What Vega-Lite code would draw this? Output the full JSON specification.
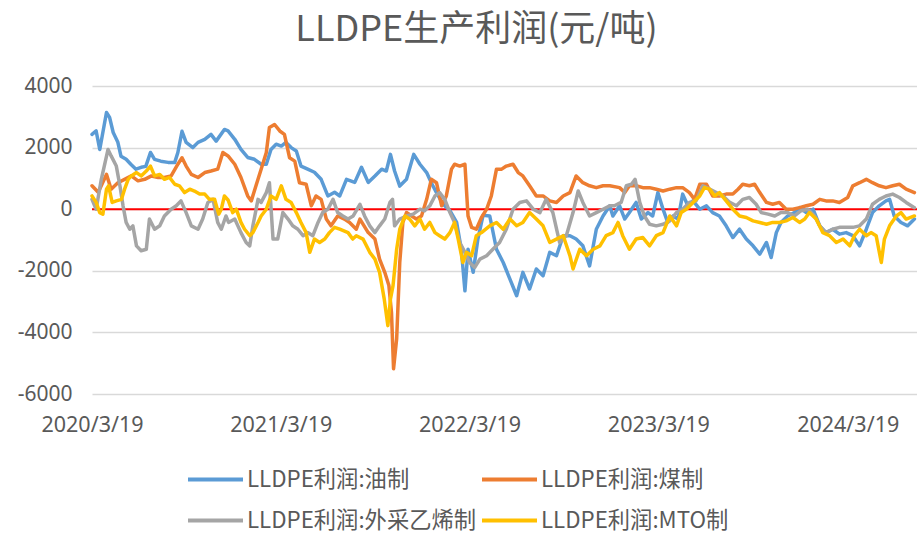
{
"$schema": "https://vega.github.io/schema/vega-lite/v6.json",
"width": 825,
"height": 308,
"autosize": {"type": "none"},
"padding": {"left": 92, "top": 86, "right": 0, "bottom": 139},
"background": "white",
"config": {"view": {"stroke": null}, "font": "Noto Sans, Noto Sans CJK SC"},
"title": {"text": "LLDPE生产利润(元/吨)", "fontSize": 36, "fontWeight": "normal", "color": "#595959", "anchor": "middle", "frame": "group", "dx": -28, "dy": 38, "offset": 28, "baseline": "bottom", "font": "Noto Sans CJK SC"},
"layer": [
{
"data": {"values": [{"v": 0}]},
"mark": {"type": "rule", "color": "#FF0000", "strokeWidth": 2},
"encoding": {"y": {"field": "v", "type": "quantitative", "title": null}}
},
{
"data": {"values": [
{"date":"2020-03-19","series":"LLDPE利润:油制","value":2430},
{"date":"2020-03-27","series":"LLDPE利润:油制","value":2540},
{"date":"2020-04-03","series":"LLDPE利润:油制","value":1940},
{"date":"2020-04-16","series":"LLDPE利润:油制","value":3140},
{"date":"2020-04-22","series":"LLDPE利润:油制","value":2980},
{"date":"2020-04-29","series":"LLDPE利润:油制","value":2490},
{"date":"2020-05-08","series":"LLDPE利润:油制","value":2170},
{"date":"2020-05-14","series":"LLDPE利润:油制","value":1720},
{"date":"2020-05-24","series":"LLDPE利润:油制","value":1620},
{"date":"2020-06-02","series":"LLDPE利润:油制","value":1460},
{"date":"2020-06-12","series":"LLDPE利润:油制","value":1300},
{"date":"2020-06-22","series":"LLDPE利润:油制","value":1360},
{"date":"2020-07-01","series":"LLDPE利润:油制","value":1390},
{"date":"2020-07-10","series":"LLDPE利润:油制","value":1840},
{"date":"2020-07-18","series":"LLDPE利润:油制","value":1620},
{"date":"2020-07-30","series":"LLDPE利润:油制","value":1560},
{"date":"2020-08-13","series":"LLDPE利润:油制","value":1520},
{"date":"2020-08-26","series":"LLDPE利润:油制","value":1520},
{"date":"2020-09-01","series":"LLDPE利润:油制","value":1840},
{"date":"2020-09-09","series":"LLDPE利润:油制","value":2530},
{"date":"2020-09-17","series":"LLDPE利润:油制","value":2170},
{"date":"2020-09-30","series":"LLDPE利润:油制","value":2000},
{"date":"2020-10-10","series":"LLDPE利润:油制","value":2170},
{"date":"2020-10-23","series":"LLDPE利润:油制","value":2270},
{"date":"2020-11-04","series":"LLDPE利润:油制","value":2430},
{"date":"2020-11-14","series":"LLDPE利润:油制","value":2210},
{"date":"2020-11-30","series":"LLDPE利润:油制","value":2590},
{"date":"2020-12-07","series":"LLDPE利润:油制","value":2540},
{"date":"2020-12-20","series":"LLDPE利润:油制","value":2270},
{"date":"2021-01-01","series":"LLDPE利润:油制","value":1940},
{"date":"2021-01-14","series":"LLDPE利润:油制","value":1680},
{"date":"2021-01-27","series":"LLDPE利润:油制","value":1620},
{"date":"2021-02-09","series":"LLDPE利润:油制","value":1460},
{"date":"2021-02-19","series":"LLDPE利润:油制","value":1460},
{"date":"2021-02-28","series":"LLDPE利润:油制","value":1940},
{"date":"2021-03-10","series":"LLDPE利润:油制","value":2110},
{"date":"2021-03-20","series":"LLDPE利润:油制","value":2050},
{"date":"2021-03-29","series":"LLDPE利润:油制","value":2170},
{"date":"2021-04-08","series":"LLDPE利润:油制","value":2000},
{"date":"2021-04-18","series":"LLDPE利润:油制","value":1890},
{"date":"2021-04-27","series":"LLDPE利润:油制","value":1400},
{"date":"2021-05-10","series":"LLDPE利润:油制","value":1300},
{"date":"2021-05-23","series":"LLDPE利润:油制","value":1200},
{"date":"2021-06-05","series":"LLDPE利润:油制","value":970},
{"date":"2021-06-18","series":"LLDPE利润:油制","value":430},
{"date":"2021-07-01","series":"LLDPE利润:油制","value":550},
{"date":"2021-07-11","series":"LLDPE利润:油制","value":430},
{"date":"2021-07-24","series":"LLDPE利润:油制","value":970},
{"date":"2021-08-09","series":"LLDPE利润:油制","value":870},
{"date":"2021-08-22","series":"LLDPE利润:油制","value":1360},
{"date":"2021-09-04","series":"LLDPE利润:油制","value":870},
{"date":"2021-09-17","series":"LLDPE利润:油制","value":1080},
{"date":"2021-09-30","series":"LLDPE利润:油制","value":1300},
{"date":"2021-10-09","series":"LLDPE利润:油制","value":1240},
{"date":"2021-10-17","series":"LLDPE利润:油制","value":1780},
{"date":"2021-10-25","series":"LLDPE利润:油制","value":1240},
{"date":"2021-11-04","series":"LLDPE利润:油制","value":750},
{"date":"2021-11-17","series":"LLDPE利润:油制","value":970},
{"date":"2021-12-01","series":"LLDPE利润:油制","value":1780},
{"date":"2021-12-13","series":"LLDPE利润:油制","value":1460},
{"date":"2021-12-26","series":"LLDPE利润:油制","value":1190},
{"date":"2022-01-04","series":"LLDPE利润:油制","value":860},
{"date":"2022-01-14","series":"LLDPE利润:油制","value":540},
{"date":"2022-01-27","series":"LLDPE利润:油制","value":160},
{"date":"2022-02-09","series":"LLDPE利润:油制","value":-50},
{"date":"2022-02-22","series":"LLDPE利润:油制","value":-430},
{"date":"2022-03-03","series":"LLDPE利润:油制","value":-1300},
{"date":"2022-03-10","series":"LLDPE利润:油制","value":-2650},
{"date":"2022-03-16","series":"LLDPE利润:油制","value":-1300},
{"date":"2022-03-26","series":"LLDPE利润:油制","value":-2050},
{"date":"2022-04-04","series":"LLDPE利润:油制","value":-970},
{"date":"2022-04-14","series":"LLDPE利润:油制","value":-200},
{"date":"2022-04-27","series":"LLDPE利润:油制","value":-220},
{"date":"2022-05-10","series":"LLDPE利润:油制","value":-1300},
{"date":"2022-05-23","series":"LLDPE利润:油制","value":-1730},
{"date":"2022-06-05","series":"LLDPE利润:油制","value":-2270},
{"date":"2022-06-18","series":"LLDPE利润:油制","value":-2810},
{"date":"2022-06-30","series":"LLDPE利润:油制","value":-2050},
{"date":"2022-07-13","series":"LLDPE利润:油制","value":-2590},
{"date":"2022-07-26","series":"LLDPE利润:油制","value":-1940},
{"date":"2022-08-08","series":"LLDPE利润:油制","value":-2160},
{"date":"2022-08-21","series":"LLDPE利润:油制","value":-1400},
{"date":"2022-09-03","series":"LLDPE利润:油制","value":-1510},
{"date":"2022-09-16","series":"LLDPE利润:油制","value":-860},
{"date":"2022-09-29","series":"LLDPE利润:油制","value":-860},
{"date":"2022-10-11","series":"LLDPE利润:油制","value":-970},
{"date":"2022-10-24","series":"LLDPE利润:油制","value":-1190},
{"date":"2022-11-06","series":"LLDPE利润:油制","value":-1840},
{"date":"2022-11-19","series":"LLDPE利润:油制","value":-650},
{"date":"2022-12-02","series":"LLDPE利润:油制","value":-220},
{"date":"2022-12-15","series":"LLDPE利润:油制","value":110},
{"date":"2022-12-21","series":"LLDPE利润:油制","value":-220},
{"date":"2023-01-03","series":"LLDPE利润:油制","value":110},
{"date":"2023-01-13","series":"LLDPE利润:油制","value":-320},
{"date":"2023-01-22","series":"LLDPE利润:油制","value":-110},
{"date":"2023-02-04","series":"LLDPE利润:油制","value":220},
{"date":"2023-02-14","series":"LLDPE利润:油制","value":-320},
{"date":"2023-02-27","series":"LLDPE利润:油制","value":-110},
{"date":"2023-03-08","series":"LLDPE利润:油制","value":-220},
{"date":"2023-03-18","series":"LLDPE利润:油制","value":540},
{"date":"2023-03-28","series":"LLDPE利润:油制","value":0},
{"date":"2023-04-06","series":"LLDPE利润:油制","value":-430},
{"date":"2023-04-16","series":"LLDPE利润:油制","value":-220},
{"date":"2023-04-26","series":"LLDPE利润:油制","value":-320},
{"date":"2023-05-05","series":"LLDPE利润:油制","value":490},
{"date":"2023-05-15","series":"LLDPE利润:油制","value":110},
{"date":"2023-05-25","series":"LLDPE利润:油制","value":270},
{"date":"2023-06-07","series":"LLDPE利润:油制","value":0},
{"date":"2023-06-20","series":"LLDPE利润:油制","value":110},
{"date":"2023-07-02","series":"LLDPE利润:油制","value":-110},
{"date":"2023-07-15","series":"LLDPE利润:油制","value":-220},
{"date":"2023-07-28","series":"LLDPE利润:油制","value":-540},
{"date":"2023-08-10","series":"LLDPE利润:油制","value":-920},
{"date":"2023-08-23","series":"LLDPE利润:油制","value":-650},
{"date":"2023-09-05","series":"LLDPE利润:油制","value":-970},
{"date":"2023-09-18","series":"LLDPE利润:油制","value":-1190},
{"date":"2023-10-01","series":"LLDPE利润:油制","value":-1460},
{"date":"2023-10-14","series":"LLDPE利润:油制","value":-1080},
{"date":"2023-10-23","series":"LLDPE利润:油制","value":-1570},
{"date":"2023-11-02","series":"LLDPE利润:油制","value":-760},
{"date":"2023-11-11","series":"LLDPE利润:油制","value":-430},
{"date":"2023-11-24","series":"LLDPE利润:油制","value":-220},
{"date":"2023-12-07","series":"LLDPE利润:油制","value":-110},
{"date":"2023-12-17","series":"LLDPE利润:油制","value":50},
{"date":"2023-12-30","series":"LLDPE利润:油制","value":-110},
{"date":"2024-01-12","series":"LLDPE利润:油制","value":0},
{"date":"2024-01-25","series":"LLDPE利润:油制","value":-540},
{"date":"2024-02-06","series":"LLDPE利润:油制","value":-760},
{"date":"2024-02-19","series":"LLDPE利润:油制","value":-650},
{"date":"2024-03-03","series":"LLDPE利润:油制","value":-810},
{"date":"2024-03-16","series":"LLDPE利润:油制","value":-760},
{"date":"2024-03-29","series":"LLDPE利润:油制","value":-860},
{"date":"2024-04-11","series":"LLDPE利润:油制","value":-1190},
{"date":"2024-04-24","series":"LLDPE利润:油制","value":-650},
{"date":"2024-05-06","series":"LLDPE利润:油制","value":-110},
{"date":"2024-05-19","series":"LLDPE利润:油制","value":110},
{"date":"2024-06-01","series":"LLDPE利润:油制","value":270},
{"date":"2024-06-08","series":"LLDPE利润:油制","value":320},
{"date":"2024-06-17","series":"LLDPE利润:油制","value":-220},
{"date":"2024-06-30","series":"LLDPE利润:油制","value":-430},
{"date":"2024-07-13","series":"LLDPE利润:油制","value":-540},
{"date":"2024-07-26","series":"LLDPE利润:油制","value":-320},
{"date":"2020-03-19","series":"LLDPE利润:煤制","value":760},
{"date":"2020-03-31","series":"LLDPE利润:煤制","value":550},
{"date":"2020-04-16","series":"LLDPE利润:煤制","value":1130},
{"date":"2020-04-25","series":"LLDPE利润:煤制","value":650},
{"date":"2020-05-08","series":"LLDPE利润:煤制","value":860},
{"date":"2020-05-21","series":"LLDPE利润:煤制","value":970},
{"date":"2020-06-03","series":"LLDPE利润:煤制","value":1080},
{"date":"2020-06-16","series":"LLDPE利润:煤制","value":920},
{"date":"2020-06-29","series":"LLDPE利润:煤制","value":970},
{"date":"2020-07-12","series":"LLDPE利润:煤制","value":1080},
{"date":"2020-07-25","series":"LLDPE利润:煤制","value":1030},
{"date":"2020-08-06","series":"LLDPE利润:煤制","value":1030},
{"date":"2020-08-19","series":"LLDPE利润:煤制","value":1080},
{"date":"2020-09-01","series":"LLDPE利润:煤制","value":1460},
{"date":"2020-09-09","series":"LLDPE利润:煤制","value":1670},
{"date":"2020-09-17","series":"LLDPE利润:煤制","value":1400},
{"date":"2020-09-27","series":"LLDPE利润:煤制","value":1130},
{"date":"2020-10-10","series":"LLDPE利润:煤制","value":1030},
{"date":"2020-10-23","series":"LLDPE利润:煤制","value":1190},
{"date":"2020-11-04","series":"LLDPE利润:煤制","value":1240},
{"date":"2020-11-17","series":"LLDPE利润:煤制","value":1300},
{"date":"2020-11-27","series":"LLDPE利润:煤制","value":1840},
{"date":"2020-12-07","series":"LLDPE利润:煤制","value":1730},
{"date":"2020-12-20","series":"LLDPE利润:煤制","value":1460},
{"date":"2021-01-01","series":"LLDPE利润:煤制","value":1030},
{"date":"2021-01-14","series":"LLDPE利润:煤制","value":430},
{"date":"2021-01-21","series":"LLDPE利润:煤制","value":270},
{"date":"2021-01-30","series":"LLDPE利润:煤制","value":760},
{"date":"2021-02-09","series":"LLDPE利润:煤制","value":1300},
{"date":"2021-02-19","series":"LLDPE利润:煤制","value":1840},
{"date":"2021-02-25","series":"LLDPE利润:煤制","value":2650},
{"date":"2021-03-07","series":"LLDPE利润:煤制","value":2750},
{"date":"2021-03-17","series":"LLDPE利润:煤制","value":2540},
{"date":"2021-03-26","series":"LLDPE利润:煤制","value":2430},
{"date":"2021-04-05","series":"LLDPE利润:煤制","value":1670},
{"date":"2021-04-15","series":"LLDPE利润:煤制","value":1560},
{"date":"2021-04-24","series":"LLDPE利润:煤制","value":860},
{"date":"2021-05-07","series":"LLDPE利润:煤制","value":810},
{"date":"2021-05-17","series":"LLDPE利润:煤制","value":110},
{"date":"2021-05-26","series":"LLDPE利润:煤制","value":430},
{"date":"2021-06-05","series":"LLDPE利润:煤制","value":320},
{"date":"2021-06-15","series":"LLDPE利润:煤制","value":-320},
{"date":"2021-06-24","series":"LLDPE利润:煤制","value":-540},
{"date":"2021-07-07","series":"LLDPE利润:煤制","value":-220},
{"date":"2021-07-20","series":"LLDPE利润:煤制","value":-320},
{"date":"2021-07-30","series":"LLDPE利润:煤制","value":-430},
{"date":"2021-08-12","series":"LLDPE利润:煤制","value":-650},
{"date":"2021-08-19","series":"LLDPE利润:煤制","value":-320},
{"date":"2021-09-04","series":"LLDPE利润:煤制","value":-760},
{"date":"2021-09-17","series":"LLDPE利润:煤制","value":-970},
{"date":"2021-09-26","series":"LLDPE利润:煤制","value":-1620},
{"date":"2021-10-06","series":"LLDPE利润:煤制","value":-2050},
{"date":"2021-10-14","series":"LLDPE利润:煤制","value":-2480},
{"date":"2021-10-19","series":"LLDPE利润:煤制","value":-3350},
{"date":"2021-10-23","series":"LLDPE利润:煤制","value":-5180},
{"date":"2021-10-29","series":"LLDPE利润:煤制","value":-4210},
{"date":"2021-11-04","series":"LLDPE利润:煤制","value":-1730},
{"date":"2021-11-10","series":"LLDPE利润:煤制","value":-430},
{"date":"2021-11-17","series":"LLDPE利润:煤制","value":-110},
{"date":"2021-11-27","series":"LLDPE利润:煤制","value":-220},
{"date":"2021-12-06","series":"LLDPE利润:煤制","value":-320},
{"date":"2021-12-16","series":"LLDPE利润:煤制","value":-220},
{"date":"2021-12-26","series":"LLDPE利润:煤制","value":320},
{"date":"2022-01-04","series":"LLDPE利润:煤制","value":970},
{"date":"2022-01-14","series":"LLDPE利润:煤制","value":860},
{"date":"2022-01-24","series":"LLDPE利润:煤制","value":110},
{"date":"2022-02-02","series":"LLDPE利润:煤制","value":430},
{"date":"2022-02-12","series":"LLDPE利润:煤制","value":1300},
{"date":"2022-02-18","series":"LLDPE利润:煤制","value":1460},
{"date":"2022-02-28","series":"LLDPE利润:煤制","value":1400},
{"date":"2022-03-10","series":"LLDPE利润:煤制","value":1460},
{"date":"2022-03-16","series":"LLDPE利润:煤制","value":-220},
{"date":"2022-03-23","series":"LLDPE利润:煤制","value":-590},
{"date":"2022-04-01","series":"LLDPE利润:煤制","value":-650},
{"date":"2022-04-11","series":"LLDPE利润:煤制","value":-270},
{"date":"2022-04-21","series":"LLDPE利润:煤制","value":0},
{"date":"2022-04-30","series":"LLDPE利润:煤制","value":430},
{"date":"2022-05-10","series":"LLDPE利润:煤制","value":1300},
{"date":"2022-05-20","series":"LLDPE利润:煤制","value":1300},
{"date":"2022-05-29","series":"LLDPE利润:煤制","value":1400},
{"date":"2022-06-11","series":"LLDPE利润:煤制","value":1460},
{"date":"2022-06-21","series":"LLDPE利润:煤制","value":1190},
{"date":"2022-06-30","series":"LLDPE利润:煤制","value":1080},
{"date":"2022-07-13","series":"LLDPE利润:煤制","value":760},
{"date":"2022-07-26","series":"LLDPE利润:煤制","value":430},
{"date":"2022-08-08","series":"LLDPE利润:煤制","value":430},
{"date":"2022-08-21","series":"LLDPE利润:煤制","value":270},
{"date":"2022-09-03","series":"LLDPE利润:煤制","value":220},
{"date":"2022-09-16","series":"LLDPE利润:煤制","value":430},
{"date":"2022-09-29","series":"LLDPE利润:煤制","value":540},
{"date":"2022-10-11","series":"LLDPE利润:煤制","value":1080},
{"date":"2022-10-24","series":"LLDPE利润:煤制","value":860},
{"date":"2022-11-06","series":"LLDPE利润:煤制","value":760},
{"date":"2022-11-19","series":"LLDPE利润:煤制","value":700},
{"date":"2022-12-02","series":"LLDPE利润:煤制","value":760},
{"date":"2022-12-15","series":"LLDPE利润:煤制","value":760},
{"date":"2023-01-03","series":"LLDPE利润:煤制","value":700},
{"date":"2023-01-13","series":"LLDPE利润:煤制","value":540},
{"date":"2023-01-22","series":"LLDPE利润:煤制","value":760},
{"date":"2023-02-04","series":"LLDPE利润:煤制","value":760},
{"date":"2023-02-17","series":"LLDPE利润:煤制","value":700},
{"date":"2023-03-02","series":"LLDPE利润:煤制","value":700},
{"date":"2023-03-15","series":"LLDPE利润:煤制","value":650},
{"date":"2023-03-28","series":"LLDPE利润:煤制","value":590},
{"date":"2023-04-10","series":"LLDPE利润:煤制","value":650},
{"date":"2023-04-23","series":"LLDPE利润:煤制","value":700},
{"date":"2023-05-05","series":"LLDPE利润:煤制","value":700},
{"date":"2023-05-18","series":"LLDPE利润:煤制","value":540},
{"date":"2023-05-28","series":"LLDPE利润:煤制","value":320},
{"date":"2023-06-07","series":"LLDPE利润:煤制","value":810},
{"date":"2023-06-20","series":"LLDPE利润:煤制","value":810},
{"date":"2023-07-02","series":"LLDPE利润:煤制","value":430},
{"date":"2023-07-15","series":"LLDPE利润:煤制","value":430},
{"date":"2023-07-28","series":"LLDPE利润:煤制","value":490},
{"date":"2023-08-10","series":"LLDPE利润:煤制","value":490},
{"date":"2023-08-20","series":"LLDPE利润:煤制","value":650},
{"date":"2023-08-29","series":"LLDPE利润:煤制","value":810},
{"date":"2023-09-11","series":"LLDPE利润:煤制","value":760},
{"date":"2023-09-21","series":"LLDPE利润:煤制","value":810},
{"date":"2023-10-01","series":"LLDPE利润:煤制","value":540},
{"date":"2023-10-14","series":"LLDPE利润:煤制","value":220},
{"date":"2023-10-26","series":"LLDPE利润:煤制","value":160},
{"date":"2023-11-08","series":"LLDPE利润:煤制","value":220},
{"date":"2023-11-21","series":"LLDPE利润:煤制","value":0},
{"date":"2023-12-04","series":"LLDPE利润:煤制","value":0},
{"date":"2023-12-17","series":"LLDPE利润:煤制","value":50},
{"date":"2023-12-30","series":"LLDPE利润:煤制","value":110},
{"date":"2024-01-12","series":"LLDPE利润:煤制","value":160},
{"date":"2024-01-25","series":"LLDPE利润:煤制","value":320},
{"date":"2024-02-06","series":"LLDPE利润:煤制","value":270},
{"date":"2024-02-19","series":"LLDPE利润:煤制","value":270},
{"date":"2024-03-03","series":"LLDPE利润:煤制","value":220},
{"date":"2024-03-19","series":"LLDPE利润:煤制","value":380},
{"date":"2024-03-29","series":"LLDPE利润:煤制","value":760},
{"date":"2024-04-11","series":"LLDPE利润:煤制","value":860},
{"date":"2024-04-24","series":"LLDPE利润:煤制","value":970},
{"date":"2024-05-06","series":"LLDPE利润:煤制","value":860},
{"date":"2024-05-19","series":"LLDPE利润:煤制","value":760},
{"date":"2024-06-01","series":"LLDPE利润:煤制","value":700},
{"date":"2024-06-14","series":"LLDPE利润:煤制","value":760},
{"date":"2024-06-27","series":"LLDPE利润:煤制","value":810},
{"date":"2024-07-10","series":"LLDPE利润:煤制","value":650},
{"date":"2024-07-26","series":"LLDPE利润:煤制","value":540},
{"date":"2020-03-19","series":"LLDPE利润:外采乙烯制","value":320},
{"date":"2020-03-27","series":"LLDPE利润:外采乙烯制","value":0},
{"date":"2020-04-06","series":"LLDPE利润:外采乙烯制","value":970},
{"date":"2020-04-19","series":"LLDPE利润:外采乙烯制","value":1940},
{"date":"2020-04-25","series":"LLDPE利润:外采乙烯制","value":1730},
{"date":"2020-05-05","series":"LLDPE利润:外采乙烯制","value":1400},
{"date":"2020-05-12","series":"LLDPE利润:外采乙烯制","value":760},
{"date":"2020-05-18","series":"LLDPE利润:外采乙烯制","value":110},
{"date":"2020-05-24","series":"LLDPE利润:外采乙烯制","value":-430},
{"date":"2020-05-31","series":"LLDPE利润:外采乙烯制","value":-650},
{"date":"2020-06-06","series":"LLDPE利润:外采乙烯制","value":-540},
{"date":"2020-06-13","series":"LLDPE利润:外采乙烯制","value":-1190},
{"date":"2020-06-22","series":"LLDPE利润:外采乙烯制","value":-1350},
{"date":"2020-07-02","series":"LLDPE利润:外采乙烯制","value":-1300},
{"date":"2020-07-08","series":"LLDPE利润:外采乙烯制","value":-320},
{"date":"2020-07-18","series":"LLDPE利润:外采乙烯制","value":-650},
{"date":"2020-07-28","series":"LLDPE利润:外采乙烯制","value":-540},
{"date":"2020-08-06","series":"LLDPE利润:外采乙烯制","value":-220},
{"date":"2020-08-19","series":"LLDPE利润:外采乙烯制","value":0},
{"date":"2020-08-29","series":"LLDPE利润:外采乙烯制","value":110},
{"date":"2020-09-07","series":"LLDPE利润:外采乙烯制","value":270},
{"date":"2020-09-17","series":"LLDPE利润:外采乙烯制","value":-110},
{"date":"2020-09-27","series":"LLDPE利润:外采乙烯制","value":-540},
{"date":"2020-10-10","series":"LLDPE利润:外采乙烯制","value":-650},
{"date":"2020-10-19","series":"LLDPE利润:外采乙烯制","value":-320},
{"date":"2020-10-29","series":"LLDPE利润:外采乙烯制","value":220},
{"date":"2020-11-08","series":"LLDPE利润:外采乙烯制","value":320},
{"date":"2020-11-17","series":"LLDPE利润:外采乙烯制","value":-430},
{"date":"2020-11-24","series":"LLDPE利润:外采乙烯制","value":-650},
{"date":"2020-12-03","series":"LLDPE利润:外采乙烯制","value":-220},
{"date":"2020-12-08","series":"LLDPE利润:外采乙烯制","value":-430},
{"date":"2020-12-20","series":"LLDPE利润:外采乙烯制","value":-320},
{"date":"2021-01-01","series":"LLDPE利润:外采乙烯制","value":-760},
{"date":"2021-01-11","series":"LLDPE利润:外采乙烯制","value":-1080},
{"date":"2021-01-18","series":"LLDPE利润:外采乙烯制","value":-1190},
{"date":"2021-01-24","series":"LLDPE利润:外采乙烯制","value":-540},
{"date":"2021-02-03","series":"LLDPE利润:外采乙烯制","value":320},
{"date":"2021-02-09","series":"LLDPE利润:外采乙烯制","value":220},
{"date":"2021-02-19","series":"LLDPE利润:外采乙烯制","value":540},
{"date":"2021-02-25","series":"LLDPE利润:外采乙烯制","value":860},
{"date":"2021-03-04","series":"LLDPE利润:外采乙烯制","value":-970},
{"date":"2021-03-13","series":"LLDPE利润:外采乙烯制","value":-970},
{"date":"2021-03-23","series":"LLDPE利润:外采乙烯制","value":-110},
{"date":"2021-04-02","series":"LLDPE利润:外采乙烯制","value":-320},
{"date":"2021-04-11","series":"LLDPE利润:外采乙烯制","value":-540},
{"date":"2021-04-21","series":"LLDPE利润:外采乙烯制","value":-650},
{"date":"2021-05-01","series":"LLDPE利润:外采乙烯制","value":-860},
{"date":"2021-05-10","series":"LLDPE利润:外采乙烯制","value":-760},
{"date":"2021-05-20","series":"LLDPE利润:外采乙烯制","value":-860},
{"date":"2021-05-30","series":"LLDPE利润:外采乙烯制","value":-430},
{"date":"2021-06-08","series":"LLDPE利润:外采乙烯制","value":-110},
{"date":"2021-06-18","series":"LLDPE利润:外采乙烯制","value":0},
{"date":"2021-06-28","series":"LLDPE利润:外采乙烯制","value":320},
{"date":"2021-07-07","series":"LLDPE利润:外采乙烯制","value":-110},
{"date":"2021-07-17","series":"LLDPE利润:外采乙烯制","value":-220},
{"date":"2021-07-27","series":"LLDPE利润:外采乙烯制","value":-320},
{"date":"2021-08-06","series":"LLDPE利润:外采乙烯制","value":-220},
{"date":"2021-08-19","series":"LLDPE利润:外采乙烯制","value":160},
{"date":"2021-08-28","series":"LLDPE利润:外采乙烯制","value":-220},
{"date":"2021-09-07","series":"LLDPE利润:外采乙烯制","value":-540},
{"date":"2021-09-17","series":"LLDPE利润:外采乙烯制","value":-760},
{"date":"2021-09-26","series":"LLDPE利润:外采乙烯制","value":-540},
{"date":"2021-10-06","series":"LLDPE利润:外采乙烯制","value":-320},
{"date":"2021-10-16","series":"LLDPE利润:外采乙烯制","value":220},
{"date":"2021-10-21","series":"LLDPE利润:外采乙烯制","value":320},
{"date":"2021-10-25","series":"LLDPE利润:外采乙烯制","value":-540},
{"date":"2021-11-04","series":"LLDPE利润:外采乙烯制","value":-320},
{"date":"2021-11-17","series":"LLDPE利润:外采乙烯制","value":-220},
{"date":"2021-11-30","series":"LLDPE利润:外采乙烯制","value":-160},
{"date":"2021-12-13","series":"LLDPE利润:外采乙烯制","value":0},
{"date":"2021-12-22","series":"LLDPE利润:外采乙烯制","value":-50},
{"date":"2022-01-01","series":"LLDPE利润:外采乙烯制","value":110},
{"date":"2022-01-11","series":"LLDPE利润:外采乙烯制","value":430},
{"date":"2022-01-20","series":"LLDPE利润:外采乙烯制","value":540},
{"date":"2022-01-30","series":"LLDPE利润:外采乙烯制","value":320},
{"date":"2022-02-09","series":"LLDPE利润:外采乙烯制","value":-110},
{"date":"2022-02-18","series":"LLDPE利润:外采乙烯制","value":-430},
{"date":"2022-02-28","series":"LLDPE利润:外采乙烯制","value":-1080},
{"date":"2022-03-10","series":"LLDPE利润:外采乙烯制","value":-1400},
{"date":"2022-03-19","series":"LLDPE利润:外采乙烯制","value":-1730},
{"date":"2022-03-29","series":"LLDPE利润:外采乙烯制","value":-1890},
{"date":"2022-04-08","series":"LLDPE利润:外采乙烯制","value":-1620},
{"date":"2022-04-21","series":"LLDPE利润:外采乙烯制","value":-1510},
{"date":"2022-05-03","series":"LLDPE利润:外采乙烯制","value":-1300},
{"date":"2022-05-16","series":"LLDPE利润:外采乙烯制","value":-1080},
{"date":"2022-05-29","series":"LLDPE利润:外采乙烯制","value":-650},
{"date":"2022-06-11","series":"LLDPE利润:外采乙烯制","value":0},
{"date":"2022-06-24","series":"LLDPE利润:外采乙烯制","value":220},
{"date":"2022-07-07","series":"LLDPE利润:外采乙烯制","value":270},
{"date":"2022-07-20","series":"LLDPE利润:外采乙烯制","value":0},
{"date":"2022-08-02","series":"LLDPE利润:外采乙烯制","value":-110},
{"date":"2022-08-14","series":"LLDPE利润:外采乙烯制","value":320},
{"date":"2022-08-27","series":"LLDPE利润:外采乙烯制","value":-110},
{"date":"2022-09-09","series":"LLDPE利润:外采乙烯制","value":-1080},
{"date":"2022-09-22","series":"LLDPE利润:外采乙烯制","value":-860},
{"date":"2022-10-05","series":"LLDPE利润:外采乙烯制","value":-110},
{"date":"2022-10-15","series":"LLDPE利润:外采乙烯制","value":590},
{"date":"2022-10-24","series":"LLDPE利润:外采乙烯制","value":220},
{"date":"2022-11-06","series":"LLDPE利润:外采乙烯制","value":-220},
{"date":"2022-11-19","series":"LLDPE利润:外采乙烯制","value":-110},
{"date":"2022-12-02","series":"LLDPE利润:外采乙烯制","value":0},
{"date":"2022-12-15","series":"LLDPE利润:外采乙烯制","value":110},
{"date":"2022-12-24","series":"LLDPE利润:外采乙烯制","value":110},
{"date":"2023-01-06","series":"LLDPE利润:外采乙烯制","value":220},
{"date":"2023-01-16","series":"LLDPE利润:外采乙烯制","value":760},
{"date":"2023-01-26","series":"LLDPE利润:外采乙烯制","value":810},
{"date":"2023-02-02","series":"LLDPE利润:外采乙烯制","value":970},
{"date":"2023-02-11","series":"LLDPE利润:外采乙烯制","value":220},
{"date":"2023-02-20","series":"LLDPE利润:外采乙烯制","value":-220},
{"date":"2023-03-02","series":"LLDPE利润:外采乙烯制","value":-490},
{"date":"2023-03-15","series":"LLDPE利润:外采乙烯制","value":-540},
{"date":"2023-03-28","series":"LLDPE利润:外采乙烯制","value":-490},
{"date":"2023-04-10","series":"LLDPE利润:外采乙烯制","value":-380},
{"date":"2023-04-23","series":"LLDPE利润:外采乙烯制","value":-110},
{"date":"2023-05-05","series":"LLDPE利润:外采乙烯制","value":0},
{"date":"2023-05-18","series":"LLDPE利润:外采乙烯制","value":220},
{"date":"2023-05-31","series":"LLDPE利润:外采乙烯制","value":270},
{"date":"2023-06-13","series":"LLDPE利润:外采乙烯制","value":760},
{"date":"2023-06-26","series":"LLDPE利润:外采乙烯制","value":650},
{"date":"2023-07-09","series":"LLDPE利润:外采乙烯制","value":540},
{"date":"2023-07-22","series":"LLDPE利润:外采乙烯制","value":430},
{"date":"2023-08-04","series":"LLDPE利润:外采乙烯制","value":220},
{"date":"2023-08-17","series":"LLDPE利润:外采乙烯制","value":110},
{"date":"2023-08-29","series":"LLDPE利润:外采乙烯制","value":320},
{"date":"2023-09-11","series":"LLDPE利润:外采乙烯制","value":380},
{"date":"2023-09-24","series":"LLDPE利润:外采乙烯制","value":160},
{"date":"2023-10-04","series":"LLDPE利润:外采乙烯制","value":-110},
{"date":"2023-10-17","series":"LLDPE利润:外采乙烯制","value":-160},
{"date":"2023-10-30","series":"LLDPE利润:外采乙烯制","value":-220},
{"date":"2023-11-11","series":"LLDPE利润:外采乙烯制","value":-110},
{"date":"2023-11-24","series":"LLDPE利润:外采乙烯制","value":-110},
{"date":"2023-12-07","series":"LLDPE利润:外采乙烯制","value":-220},
{"date":"2023-12-20","series":"LLDPE利润:外采乙烯制","value":-50},
{"date":"2024-01-02","series":"LLDPE利润:外采乙烯制","value":0},
{"date":"2024-01-15","series":"LLDPE利润:外采乙烯制","value":-220},
{"date":"2024-01-25","series":"LLDPE利润:外采乙烯制","value":-540},
{"date":"2024-02-06","series":"LLDPE利润:外采乙烯制","value":-760},
{"date":"2024-02-19","series":"LLDPE利润:外采乙烯制","value":-650},
{"date":"2024-03-03","series":"LLDPE利润:外采乙烯制","value":-590},
{"date":"2024-03-16","series":"LLDPE利润:外采乙烯制","value":-590},
{"date":"2024-03-29","series":"LLDPE利润:外采乙烯制","value":-590},
{"date":"2024-04-11","series":"LLDPE利润:外采乙烯制","value":-540},
{"date":"2024-04-24","series":"LLDPE利润:外采乙烯制","value":-320},
{"date":"2024-05-06","series":"LLDPE利润:外采乙烯制","value":160},
{"date":"2024-05-19","series":"LLDPE利润:外采乙烯制","value":320},
{"date":"2024-06-01","series":"LLDPE利润:外采乙烯制","value":430},
{"date":"2024-06-14","series":"LLDPE利润:外采乙烯制","value":490},
{"date":"2024-06-27","series":"LLDPE利润:外采乙烯制","value":380},
{"date":"2024-07-10","series":"LLDPE利润:外采乙烯制","value":220},
{"date":"2024-07-26","series":"LLDPE利润:外采乙烯制","value":50},
{"date":"2020-03-19","series":"LLDPE利润:MTO制","value":430},
{"date":"2020-03-27","series":"LLDPE利润:MTO制","value":220},
{"date":"2020-04-03","series":"LLDPE利润:MTO制","value":-110},
{"date":"2020-04-09","series":"LLDPE利润:MTO制","value":-160},
{"date":"2020-04-16","series":"LLDPE利润:MTO制","value":650},
{"date":"2020-04-20","series":"LLDPE利润:MTO制","value":760},
{"date":"2020-04-27","series":"LLDPE利润:MTO制","value":220},
{"date":"2020-05-05","series":"LLDPE利润:MTO制","value":270},
{"date":"2020-05-15","series":"LLDPE利润:MTO制","value":320},
{"date":"2020-05-21","series":"LLDPE利润:MTO制","value":650},
{"date":"2020-05-28","series":"LLDPE利润:MTO制","value":970},
{"date":"2020-06-03","series":"LLDPE利润:MTO制","value":1080},
{"date":"2020-06-13","series":"LLDPE利润:MTO制","value":1190},
{"date":"2020-06-22","series":"LLDPE利润:MTO制","value":1080},
{"date":"2020-07-02","series":"LLDPE利润:MTO制","value":1240},
{"date":"2020-07-10","series":"LLDPE利润:MTO制","value":1400},
{"date":"2020-07-18","series":"LLDPE利润:MTO制","value":1080},
{"date":"2020-07-28","series":"LLDPE利润:MTO制","value":1130},
{"date":"2020-08-06","series":"LLDPE利润:MTO制","value":970},
{"date":"2020-08-16","series":"LLDPE利润:MTO制","value":1030},
{"date":"2020-08-26","series":"LLDPE利润:MTO制","value":810},
{"date":"2020-09-04","series":"LLDPE利润:MTO制","value":760},
{"date":"2020-09-14","series":"LLDPE利润:MTO制","value":540},
{"date":"2020-09-24","series":"LLDPE利润:MTO制","value":650},
{"date":"2020-10-03","series":"LLDPE利润:MTO制","value":590},
{"date":"2020-10-13","series":"LLDPE利润:MTO制","value":490},
{"date":"2020-10-23","series":"LLDPE利润:MTO制","value":490},
{"date":"2020-11-01","series":"LLDPE利润:MTO制","value":320},
{"date":"2020-11-11","series":"LLDPE利润:MTO制","value":320},
{"date":"2020-11-19","series":"LLDPE利润:MTO制","value":-160},
{"date":"2020-11-24","series":"LLDPE利润:MTO制","value":0},
{"date":"2020-11-30","series":"LLDPE利润:MTO制","value":430},
{"date":"2020-12-07","series":"LLDPE利润:MTO制","value":300},
{"date":"2020-12-16","series":"LLDPE利润:MTO制","value":-110},
{"date":"2020-12-23","series":"LLDPE利润:MTO制","value":0},
{"date":"2021-01-01","series":"LLDPE利润:MTO制","value":-430},
{"date":"2021-01-08","series":"LLDPE利润:MTO制","value":-650},
{"date":"2021-01-18","series":"LLDPE利润:MTO制","value":-860},
{"date":"2021-01-24","series":"LLDPE利润:MTO制","value":-760},
{"date":"2021-02-03","series":"LLDPE利润:MTO制","value":-430},
{"date":"2021-02-09","series":"LLDPE利润:MTO制","value":-220},
{"date":"2021-02-19","series":"LLDPE利润:MTO制","value":0},
{"date":"2021-02-28","series":"LLDPE利润:MTO制","value":430},
{"date":"2021-03-10","series":"LLDPE利润:MTO制","value":320},
{"date":"2021-03-20","series":"LLDPE利润:MTO制","value":760},
{"date":"2021-03-29","series":"LLDPE利润:MTO制","value":320},
{"date":"2021-04-08","series":"LLDPE利润:MTO制","value":220},
{"date":"2021-04-18","series":"LLDPE利润:MTO制","value":-110},
{"date":"2021-04-27","series":"LLDPE利润:MTO制","value":-430},
{"date":"2021-05-07","series":"LLDPE利润:MTO制","value":-760},
{"date":"2021-05-14","series":"LLDPE利润:MTO制","value":-1400},
{"date":"2021-05-23","series":"LLDPE利润:MTO制","value":-970},
{"date":"2021-06-02","series":"LLDPE利润:MTO制","value":-1080},
{"date":"2021-06-12","series":"LLDPE利润:MTO制","value":-970},
{"date":"2021-06-21","series":"LLDPE利润:MTO制","value":-760},
{"date":"2021-07-01","series":"LLDPE利润:MTO制","value":-590},
{"date":"2021-07-11","series":"LLDPE利润:MTO制","value":-650},
{"date":"2021-07-27","series":"LLDPE利润:MTO制","value":-760},
{"date":"2021-08-05","series":"LLDPE利润:MTO制","value":-970},
{"date":"2021-08-12","series":"LLDPE利润:MTO制","value":-860},
{"date":"2021-08-25","series":"LLDPE利润:MTO制","value":-970},
{"date":"2021-09-07","series":"LLDPE利润:MTO制","value":-1400},
{"date":"2021-09-17","series":"LLDPE利润:MTO制","value":-1620},
{"date":"2021-09-26","series":"LLDPE利润:MTO制","value":-2050},
{"date":"2021-10-05","series":"LLDPE利润:MTO制","value":-2920},
{"date":"2021-10-12","series":"LLDPE利润:MTO制","value":-3780},
{"date":"2021-10-17","series":"LLDPE利润:MTO制","value":-2920},
{"date":"2021-10-22","series":"LLDPE利润:MTO制","value":-2480},
{"date":"2021-10-29","series":"LLDPE利润:MTO制","value":-1300},
{"date":"2021-11-04","series":"LLDPE利润:MTO制","value":-650},
{"date":"2021-11-14","series":"LLDPE利润:MTO制","value":-220},
{"date":"2021-11-23","series":"LLDPE利润:MTO制","value":-320},
{"date":"2021-12-03","series":"LLDPE利润:MTO制","value":-540},
{"date":"2021-12-13","series":"LLDPE利润:MTO制","value":-320},
{"date":"2021-12-22","series":"LLDPE利润:MTO制","value":-650},
{"date":"2022-01-01","series":"LLDPE利润:MTO制","value":-430},
{"date":"2022-01-11","series":"LLDPE利润:MTO制","value":-760},
{"date":"2022-01-20","series":"LLDPE利润:MTO制","value":-860},
{"date":"2022-01-30","series":"LLDPE利润:MTO制","value":-970},
{"date":"2022-02-09","series":"LLDPE利润:MTO制","value":-760},
{"date":"2022-02-18","series":"LLDPE利润:MTO制","value":-430},
{"date":"2022-02-25","series":"LLDPE利润:MTO制","value":-970},
{"date":"2022-03-06","series":"LLDPE利润:MTO制","value":-1730},
{"date":"2022-03-13","series":"LLDPE利润:MTO制","value":-1400},
{"date":"2022-03-23","series":"LLDPE利润:MTO制","value":-1510},
{"date":"2022-04-01","series":"LLDPE利润:MTO制","value":-860},
{"date":"2022-04-11","series":"LLDPE利润:MTO制","value":-760},
{"date":"2022-04-27","series":"LLDPE利润:MTO制","value":-540},
{"date":"2022-05-10","series":"LLDPE利润:MTO制","value":-430},
{"date":"2022-05-23","series":"LLDPE利润:MTO制","value":-650},
{"date":"2022-06-05","series":"LLDPE利润:MTO制","value":-320},
{"date":"2022-06-18","series":"LLDPE利润:MTO制","value":-540},
{"date":"2022-06-30","series":"LLDPE利润:MTO制","value":-430},
{"date":"2022-07-13","series":"LLDPE利润:MTO制","value":-110},
{"date":"2022-07-26","series":"LLDPE利润:MTO制","value":-320},
{"date":"2022-08-08","series":"LLDPE利润:MTO制","value":-540},
{"date":"2022-08-21","series":"LLDPE利润:MTO制","value":-1080},
{"date":"2022-09-03","series":"LLDPE利润:MTO制","value":-970},
{"date":"2022-09-16","series":"LLDPE利润:MTO制","value":-860},
{"date":"2022-09-29","series":"LLDPE利润:MTO制","value":-1510},
{"date":"2022-10-05","series":"LLDPE利润:MTO制","value":-1940},
{"date":"2022-10-18","series":"LLDPE利润:MTO制","value":-1300},
{"date":"2022-10-31","series":"LLDPE利润:MTO制","value":-1510},
{"date":"2022-11-13","series":"LLDPE利润:MTO制","value":-1300},
{"date":"2022-11-26","series":"LLDPE利润:MTO制","value":-1190},
{"date":"2022-12-08","series":"LLDPE利润:MTO制","value":-860},
{"date":"2022-12-21","series":"LLDPE利润:MTO制","value":-760},
{"date":"2022-12-31","series":"LLDPE利润:MTO制","value":-430},
{"date":"2023-01-09","series":"LLDPE利润:MTO制","value":-860},
{"date":"2023-01-22","series":"LLDPE利润:MTO制","value":-1300},
{"date":"2023-02-04","series":"LLDPE利润:MTO制","value":-970},
{"date":"2023-02-17","series":"LLDPE利润:MTO制","value":-920},
{"date":"2023-03-02","series":"LLDPE利润:MTO制","value":-1190},
{"date":"2023-03-15","series":"LLDPE利润:MTO制","value":-860},
{"date":"2023-03-28","series":"LLDPE利润:MTO制","value":-760},
{"date":"2023-04-10","series":"LLDPE利润:MTO制","value":-220},
{"date":"2023-04-23","series":"LLDPE利润:MTO制","value":-540},
{"date":"2023-05-02","series":"LLDPE利润:MTO制","value":-110},
{"date":"2023-05-12","series":"LLDPE利润:MTO制","value":0},
{"date":"2023-05-25","series":"LLDPE利润:MTO制","value":220},
{"date":"2023-06-07","series":"LLDPE利润:MTO制","value":430},
{"date":"2023-06-16","series":"LLDPE利润:MTO制","value":700},
{"date":"2023-06-26","series":"LLDPE利润:MTO制","value":650},
{"date":"2023-07-06","series":"LLDPE利润:MTO制","value":430},
{"date":"2023-07-15","series":"LLDPE利润:MTO制","value":540},
{"date":"2023-07-28","series":"LLDPE利润:MTO制","value":270},
{"date":"2023-08-10","series":"LLDPE利润:MTO制","value":0},
{"date":"2023-08-23","series":"LLDPE利润:MTO制","value":-220},
{"date":"2023-09-05","series":"LLDPE利润:MTO制","value":-270},
{"date":"2023-09-18","series":"LLDPE利润:MTO制","value":-380},
{"date":"2023-10-01","series":"LLDPE利润:MTO制","value":-430},
{"date":"2023-10-14","series":"LLDPE利润:MTO制","value":-490},
{"date":"2023-10-26","series":"LLDPE利润:MTO制","value":-430},
{"date":"2023-11-08","series":"LLDPE利润:MTO制","value":-430},
{"date":"2023-11-21","series":"LLDPE利润:MTO制","value":-380},
{"date":"2023-12-04","series":"LLDPE利润:MTO制","value":-270},
{"date":"2023-12-17","series":"LLDPE利润:MTO制","value":-430},
{"date":"2023-12-27","series":"LLDPE利润:MTO制","value":-320},
{"date":"2024-01-05","series":"LLDPE利润:MTO制","value":-110},
{"date":"2024-01-18","series":"LLDPE利润:MTO制","value":-320},
{"date":"2024-01-31","series":"LLDPE利润:MTO制","value":-760},
{"date":"2024-02-13","series":"LLDPE利润:MTO制","value":-860},
{"date":"2024-02-26","series":"LLDPE利润:MTO制","value":-1080},
{"date":"2024-03-10","series":"LLDPE利润:MTO制","value":-970},
{"date":"2024-03-23","series":"LLDPE利润:MTO制","value":-1190},
{"date":"2024-04-01","series":"LLDPE利润:MTO制","value":-860},
{"date":"2024-04-11","series":"LLDPE利润:MTO制","value":-650},
{"date":"2024-04-24","series":"LLDPE利润:MTO制","value":-860},
{"date":"2024-05-03","series":"LLDPE利润:MTO制","value":-760},
{"date":"2024-05-13","series":"LLDPE利润:MTO制","value":-860},
{"date":"2024-05-23","series":"LLDPE利润:MTO制","value":-1730},
{"date":"2024-05-29","series":"LLDPE利润:MTO制","value":-970},
{"date":"2024-06-08","series":"LLDPE利润:MTO制","value":-540},
{"date":"2024-06-21","series":"LLDPE利润:MTO制","value":-220},
{"date":"2024-06-30","series":"LLDPE利润:MTO制","value":-110},
{"date":"2024-07-10","series":"LLDPE利润:MTO制","value":-320},
{"date":"2024-07-26","series":"LLDPE利润:MTO制","value":-220}
]},
"mark": {"type": "line", "strokeWidth": 3.5, "strokeJoin": "round", "strokeCap": "round"},
"encoding": {
"x": {"field": "date", "type": "temporal", "title": null,
 "scale": {"domain": [{"year": 2020, "month": 3, "date": 19}, {"year": 2024, "month": 7, "date": 31}]},
 "axis": {"values": [{"year": 2020, "month": 3, "date": 19}, {"year": 2021, "month": 3, "date": 19}, {"year": 2022, "month": 3, "date": 19}, {"year": 2023, "month": 3, "date": 19}, {"year": 2024, "month": 3, "date": 19}],
  "format": "%Y/%-m/%-d", "labelFontSize": 21.5, "labelColor": "#595959", "domain": false, "ticks": false, "grid": false, "labelPadding": 20, "labelFlush": false, "labelOverlap": false}},
"y": {"field": "value", "type": "quantitative", "title": null,
 "scale": {"domain": [-6000, 4000], "nice": false, "zero": false},
 "axis": {"values": [-6000, -4000, -2000, 0, 2000, 4000], "labelExpr": "datum.value + ''", "labelFontSize": 21, "labelColor": "#595959", "domain": false, "ticks": false, "gridColor": "#D9D9D9", "gridWidth": 1.3, "labelPadding": 20}},
"color": {"field": "series", "type": "nominal",
 "scale": {"domain": ["LLDPE利润:油制", "LLDPE利润:煤制", "LLDPE利润:外采乙烯制", "LLDPE利润:MTO制"], "range": ["#5B9BD5", "#ED7D31", "#A5A5A5", "#FFC000"]},
 "legend": {"orient": "none", "legendX": 94, "legendY": 364, "direction": "horizontal", "columns": 2, "symbolType": "stroke", "symbolSize": 3025, "symbolStrokeWidth": 4, "labelFontSize": 22.3, "labelFont": "Noto Sans CJK SC", "labelColor": "#595959", "labelOffset": 2, "columnPadding": -3, "rowPadding": -4.5, "title": null, "padding": 0, "labelLimit": 400}}
}
}
]
}
